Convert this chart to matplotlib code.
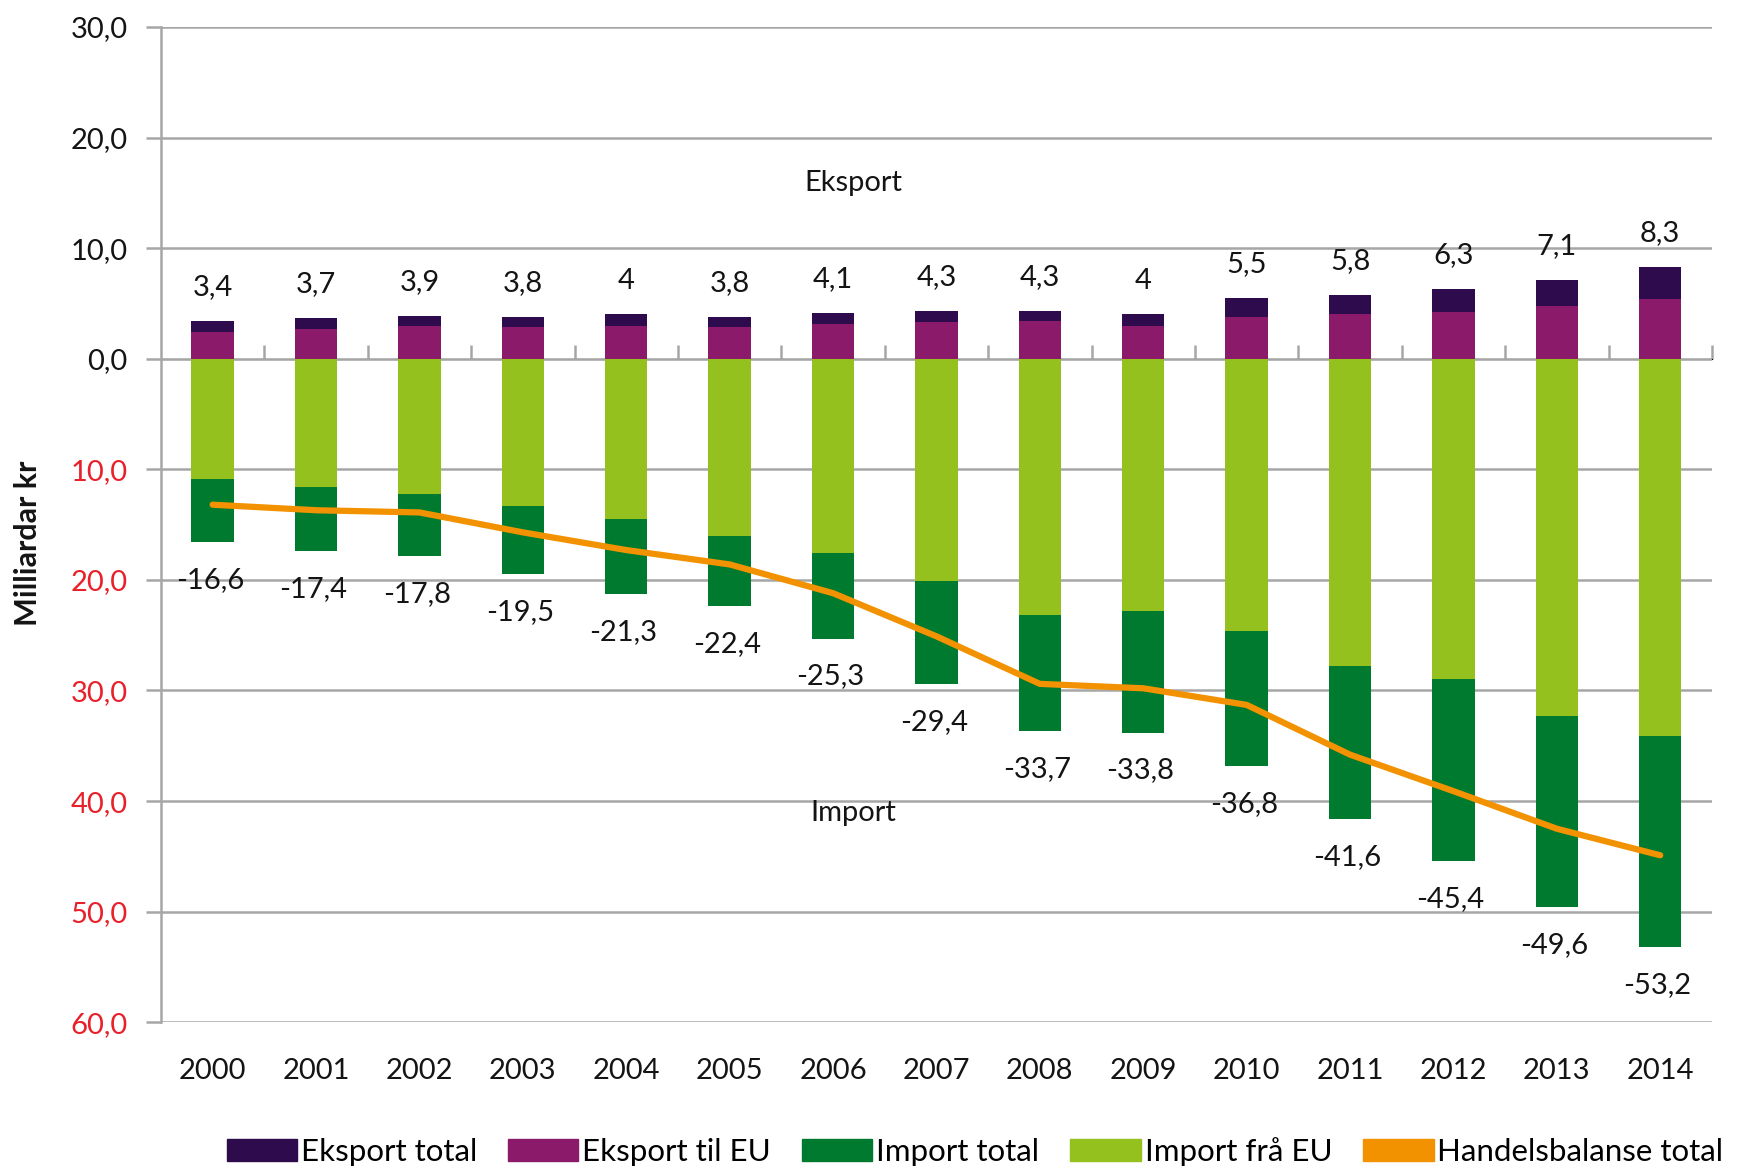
import numpy as np
import matplotlib
matplotlib.use("Agg")
import matplotlib.pyplot as plt
from matplotlib.patches import Patch

plt.rcParams['font.family'] = ['Lato', 'DejaVu Sans']

years = [str(y) for y in range(2000, 2015)]
eksport_total = [3.4, 3.7, 3.9, 3.8, 4.0, 3.8, 4.1, 4.3, 4.3, 4.0, 5.5, 5.8, 6.3, 7.1, 8.3]
eksport_eu = [2.4, 2.7, 3.0, 2.9, 3.0, 2.9, 3.1, 3.3, 3.4, 3.0, 3.8, 4.0, 4.2, 4.8, 5.4]
import_total = [16.6, 17.4, 17.8, 19.5, 21.3, 22.4, 25.3, 29.4, 33.7, 33.8, 36.8, 41.6, 45.4, 49.6, 53.2]
import_eu = [10.9, 11.6, 12.2, 13.3, 14.5, 16.0, 17.6, 20.1, 23.2, 22.8, 24.6, 27.8, 29.0, 32.3, 34.1]
handelsbalanse = [-13.2, -13.7, -13.9, -15.7, -17.3, -18.6, -21.2, -25.1, -29.4, -29.8,
                  -31.3, -35.8, -39.1, -42.5, -44.9]

c_eks_tot = '#2e0b4c'
c_eks_eu = '#8b1a6a'
c_imp_tot = '#007a2f'
c_imp_eu = '#95c11f'
c_bal = '#f39200'
grid_c = '#a6a6a6'
txt_c = '#141414'
fs = 21

def fmt(v):
    s = f"{v:.1f}".replace('.', ',')
    if s.endswith(',0'):
        s = s[:-2]
    return s

fig = plt.figure(figsize=(17.38, 11.71), dpi=100)
ax = fig.add_axes([0.0926, 0.127, 0.8924, 0.85])

x = np.arange(len(years))
w = 0.41

ax.bar(x, eksport_total, w, color=c_eks_tot, zorder=3)
ax.bar(x, eksport_eu, w, color=c_eks_eu, zorder=3)
ax.bar(x, [-v for v in import_total], w, color=c_imp_tot, zorder=3)
ax.bar(x, [-v for v in import_eu], w, color=c_imp_eu, zorder=3)
ax.plot(x, handelsbalanse, color=c_bal, lw=4.5, solid_capstyle='round',
        solid_joinstyle='round', zorder=4)

for i in range(len(years)):
    ax.annotate(fmt(eksport_total[i]), (x[i], eksport_total[i]), xytext=(0, 15),
                textcoords='offset points', ha='center', va='bottom',
                fontsize=fs, color=txt_c, zorder=5)
    ax.annotate('-' + f"{import_total[i]:.1f}".replace('.', ','), (x[i], -import_total[i]),
                xytext=(-2, -18), textcoords='offset points', ha='center', va='top',
                fontsize=fs, color=txt_c, zorder=5)

ax.text(6.2, 15.9, 'Eksport', ha='center', va='center', fontsize=fs, color=txt_c)
ax.text(6.2, -41.1, 'Import', ha='center', va='center', fontsize=fs, color=txt_c)

ax.set_xlim(-0.5, len(years) - 0.5)
ax.set_ylim(-60, 30)

yt = np.arange(-60, 31, 10)
ax.set_yticks(yt)
ax.set_yticklabels([f"{abs(v):.1f}".replace('.', ',') for v in yt], fontsize=fs)
for lab, v in zip(ax.get_yticklabels(), yt):
    lab.set_color('#e8202a' if v < 0 else txt_c)
ax.tick_params(axis='y', length=11, width=1.8, color=grid_c, pad=13)
ax.yaxis.grid(True, color=grid_c, lw=1.8, zorder=0)

ax.set_xticks(x)
ax.set_xticklabels(years, fontsize=fs, color=txt_c)
ax.tick_params(axis='x', length=0, pad=26)

for s in ['top', 'right', 'bottom']:
    ax.spines[s].set_visible(False)
ax.spines['left'].set_color(grid_c)
ax.spines['left'].set_linewidth(1.8)

# category axis at zero with boundary ticks
sec = ax.secondary_xaxis(2 / 3)
sec.set_xticks(np.arange(0.5, len(years), 1.0))
sec.set_xticklabels([])
sec.tick_params(axis='x', direction='out', length=10, width=1.8, color=grid_c)
sec.spines['bottom'].set_color(grid_c)
sec.spines['bottom'].set_linewidth(1.8)

fig.text(0.016, 0.536, 'Milliardar kr', rotation=90, ha='center', va='center',
         fontsize=22, fontweight='bold', color=txt_c)

handles = [Patch(color=c_eks_tot), Patch(color=c_eks_eu), Patch(color=c_imp_tot),
           Patch(color=c_imp_eu), Patch(color=c_bal)]
labels = ['Eksport total', 'Eksport til EU', 'Import total', 'Import frå EU',
          'Handelsbalanse total']
fig.legend(handles, labels, loc='lower center', bbox_to_anchor=(0.561, -0.02), ncol=5,
           frameon=False, fontsize=22.5, handlelength=2.25, handleheight=0.7,
           handletextpad=0.12, columnspacing=1.0)

fig.savefig('out.png', dpi=100)
